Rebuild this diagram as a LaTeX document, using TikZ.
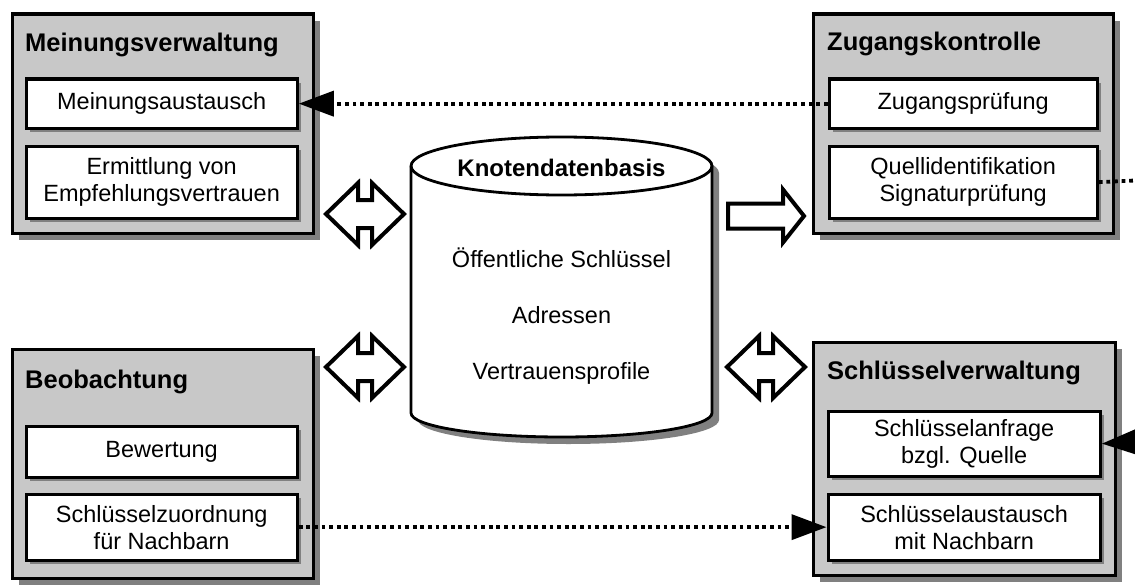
\documentclass[tikz,border=0pt]{standalone}
\usepackage{fontspec}
\setmainfont{Liberation Sans}
\usetikzlibrary{arrows.meta,shadows}
\definecolor{boxgray}{RGB}{200,200,200}
\definecolor{shadowgray}{RGB}{128,128,128}
\begin{document}
\begin{tikzpicture}[x=1pt,y=-1pt,
  outerbox/.style={draw, line width=3.3pt, fill=boxgray, anchor=north west, inner sep=0pt,
    drop shadow={shadow xshift=7pt, shadow yshift=-7pt, fill=shadowgray, opacity=1}},
  innerbox/.style={draw, line width=3.3pt, fill=white, anchor=north west, inner sep=0pt,
    align=center, font=\fontsize{23.5}{27}\selectfont,
    drop shadow={shadow xshift=4pt, shadow yshift=-4pt, fill=shadowgray, opacity=1}},
  boxtitle/.style={anchor=west, inner sep=0pt, font=\fontsize{25.5}{30}\bfseries\selectfont},
  dbtext/.style={inner sep=0pt, font=\fontsize{23.5}{27}\selectfont},
  dbtitle/.style={inner sep=0pt, font=\fontsize{24}{28}\bfseries\selectfont},
  blockarrow/.style={draw, line width=4pt, fill=white, line join=miter},
  dotline/.style={line width=3.8pt, dash pattern=on 3.8pt off 3.8pt},
  tip/.style={-{Triangle[length=35pt,width=25pt]}}
]
\useasboundingbox (0,0) rectangle (1135,586);

% outer boxes
\node[outerbox, minimum width=301, minimum height=219] (mv) at (10.5,12.5) {};
\node[outerbox, minimum width=300, minimum height=219] (zk) at (811.5,12.5) {};
\node[outerbox, minimum width=301, minimum height=229] (bo) at (10.5,347.5) {};
\node[outerbox, minimum width=302, minimum height=233] (sv) at (811.5,340.5) {};

% titles
\node[boxtitle] (mvt) at (25,45) {Meinungsverwaltung};
\node[boxtitle] (zkt) at (827,44) {Zugangskontrolle};
\node[boxtitle] (bot) at (25,382) {Beobachtung};
\node[boxtitle] (svt) at (827,373) {Schlüsselverwaltung};

% inner boxes
\node[innerbox, minimum width=271, minimum height=49] (ma) at (24.5,77.5) {Meinungsaustausch};
\node[innerbox, minimum width=271, minimum height=72] (ev) at (24.5,144.5) {Ermittlung von\\Empfehlungsvertrauen};
\node[innerbox, minimum width=268, minimum height=49] (zp) at (827.5,77.5) {Zugangsprüfung};
\node[innerbox, minimum width=268, minimum height=72] (qi) at (827.5,144.5) {Quellidentifikation\\Signaturprüfung};
\node[innerbox, minimum width=271, minimum height=51] (bw) at (24.5,424.5) {Bewertung};
\node[innerbox, minimum width=271, minimum height=66] (sz) at (24.5,492.5) {Schlüsselzuordnung\\für Nachbarn};
\node[innerbox, minimum width=272, minimum height=65] (sa) at (826.5,409.5) {Schlüsselanfrage\\bzgl. Quelle};
\node[innerbox, minimum width=272, minimum height=66] (sx) at (826.5,492.5) {Schlüsselaustausch\\mit Nachbarn};

% database cylinder
\fill[shadowgray, shift={(7,7)}] (411,166) -- (411,413)
  arc[start angle=180, end angle=360, x radius=150.5pt, y radius=24pt] -- (712,166)
  arc[start angle=0, end angle=180, x radius=150.5pt, y radius=29pt] -- cycle;
\draw[line width=2.8pt, fill=white] (411,166) -- (411,413)
  arc[start angle=180, end angle=360, x radius=150.5pt, y radius=24pt] -- (712,166)
  arc[start angle=0, end angle=180, x radius=150.5pt, y radius=29pt] -- cycle;
\draw[line width=2.8pt] (411,166) arc[start angle=180, end angle=360, x radius=150.5pt, y radius=29pt];
\node[dbtitle] (dbt) at (561.5,168) {Knotendatenbasis};
\node[dbtext] (db1) at (561.5,258) {Öffentliche Schlüssel};
\node[dbtext] (db2) at (561.5,315) {Adressen};
\node[dbtext] (db3) at (561.5,373) {Vertrauensprofile};

% hollow block arrows
\draw[blockarrow] (326,214) -- (358,183) -- (358,200) -- (372,200) -- (372,183) -- (404,214)
  -- (372,245) -- (372,228) -- (358,228) -- (358,245) -- cycle;
\draw[blockarrow] (326,367) -- (358,336) -- (358,353) -- (372,353) -- (372,336) -- (404,367)
  -- (372,398) -- (372,381) -- (358,381) -- (358,398) -- cycle;
\draw[blockarrow] (727,367) -- (759,336) -- (759,353) -- (773,353) -- (773,336) -- (805,367)
  -- (773,398) -- (773,381) -- (759,381) -- (759,398) -- cycle;
\draw[blockarrow] (728,203.5) -- (783,203.5) -- (783,189.5) -- (804,216) -- (783,242.5)
  -- (783,228.5) -- (728,228.5) -- cycle;

% dotted connectors
\coordinate (qout) at (1135,180.5);
\coordinate (ain) at (1135,442);
\draw[dotline, tip] (zp.west) -- (ma.east);
\draw[dotline] (qi.east) -- (qout);
\draw[dotline, tip] (ain) -- (sa.east);
\draw[dotline, tip] (sz.east) -- (sx.west);
\end{tikzpicture}
\end{document}
